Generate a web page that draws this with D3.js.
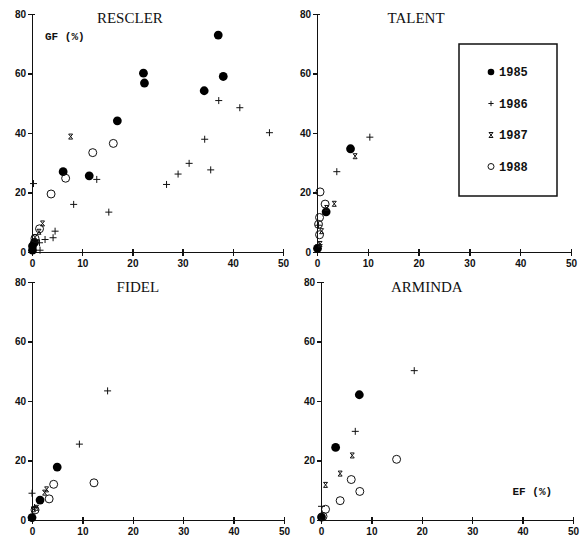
<!DOCTYPE html>
<html>
<head>
<meta charset="UTF-8">
<title>GF vs EF</title>
<script src="https://cdn.jsdelivr.net/npm/d3@7"></script>
<style>
  body{margin:0;background:#fff;}
  .axis path,.axis line{fill:none;stroke:#111;stroke-width:1.5;shape-rendering:crispEdges;}
  .axis text{font:bold 10px "Liberation Sans",sans-serif;fill:#111;}
  .title{font:15px "Liberation Serif",serif;fill:#111;}
  .lab{font:bold 11px "Liberation Mono",monospace;fill:#111;}
  .leg{font:bold 12px "Liberation Mono",monospace;fill:#111;}
</style>
</head>
<body>
<script>
// data: [EF %, GF %]
var years = ["1985","1986","1987","1988"];
var xTicks = [0,10,20,30,40,50];
var yTicks = [0,20,40,60,80];

var rescler1985 = [[37.1,72.9],[22.2,60.1],[22.4,56.8],[38.1,59.0],[34.3,54.2],[17.0,44.1],[6.2,27.0],[11.4,25.6],[0.1,2.0],[0.5,3.2],[0.1,0.6]];
var rescler1986 = [[37.2,50.9],[41.4,48.5],[47.3,40.1],[34.4,37.9],[31.3,29.8],[29.1,26.2],[35.6,27.6],[26.8,22.7],[12.9,24.4],[8.3,16.0],[15.3,13.4],[0.3,23.0],[4.6,7.0],[4.2,4.8],[2.6,4.2],[1.5,3.1],[1.6,0.6]];
var rescler1987 = [[7.7,38.8],[2.1,9.6],[1.4,6.8],[0.6,4.9]];
var rescler1988 = [[16.2,36.5],[12.1,33.4],[6.7,24.8],[3.8,19.5],[1.5,7.8],[0.6,4.6]];

var talent1985 = [[6.6,34.7],[1.8,13.5],[0.1,1.2]];
var talent1986 = [[10.4,38.6],[3.9,27.0],[0.3,9.0],[0.4,2.5]];
var talent1987 = [[7.5,32.2],[3.4,16.2],[1.9,14.8],[0.9,7.0],[0.6,2.7]];
var talent1988 = [[0.6,20.2],[1.6,16.1],[0.5,11.6],[0.3,9.3],[0.5,5.8]];

var fidel1985 = [[5.0,17.8],[1.6,6.7],[0.0,0.8]];
var fidel1986 = [[15.0,43.4],[9.4,25.5],[0.0,9.0],[0.5,4.2]];
var fidel1987 = [[2.9,10.3],[2.5,9.2],[0.3,3.6],[0.9,4.1]];
var fidel1988 = [[12.3,12.5],[4.3,12.0],[3.4,7.1],[0.6,3.4]];

var arminda1985 = [[7.6,42.1],[2.9,24.4],[0.1,1.0]];
var arminda1986 = [[18.5,50.2],[6.8,29.8],[0.1,4.6]];
var arminda1987 = [[6.2,21.7],[3.8,15.6],[0.9,11.8]];
var arminda1988 = [[15.0,20.4],[6.0,13.6],[7.7,9.6],[3.8,6.5],[0.9,3.6],[0.4,1.2]];

var panels = [
  {name:"RESCLER", left:32,  top:14,  w:251, series:[rescler1985,rescler1986,rescler1987,rescler1988]},
  {name:"TALENT",  left:317, top:14,  w:254, series:[talent1985,talent1986,talent1987,talent1988]},
  {name:"FIDEL",   left:32,  top:282, w:252, series:[fidel1985,fidel1986,fidel1987,fidel1988]},
  {name:"ARMINDA", left:321, top:282, w:252, series:[arminda1985,arminda1986,arminda1987,arminda1988]}
];
var h = 238;

var svg = d3.select("body").append("svg")
  .attr("width",585).attr("height",537);

// marker drawers by year index
function mark(g, k, big){
  var s = big ? 1 : 0.75;
  if(k==0){
    g.append("circle").attr("r",4.4*s).attr("fill","#000");
  }else if(k==1){
    g.append("path").attr("d","M"+(-3.5*s)+",0H"+(3.5*s)+"M0,"+(-3.5*s)+"V"+(3.5*s))
      .attr("stroke","#111").attr("stroke-width",1).attr("fill","none");
  }else if(k==2){
    // small hourglass
    g.append("path").attr("d","M-2,-2.5H2L-2,2.5H2Z")
      .attr("stroke","#111").attr("stroke-width",1).attr("fill","none");
  }else{
    g.append("circle").attr("r",4*s).attr("fill","none")
      .attr("stroke","#111").attr("stroke-width",1);
  }
}

panels.forEach(function(p){
  var x = d3.scaleLinear().domain([0,50]).range([0,p.w]);
  var y = d3.scaleLinear().domain([0,80]).range([h,0]);
  var g = svg.append("g").attr("transform","translate("+p.left+","+p.top+")");

  var ya = g.append("g").attr("class","axis")
    .call(d3.axisLeft(y).tickValues(yTicks).tickSize(4).tickSizeOuter(0).tickPadding(2).tickFormat(d3.format("d")));
  ya.selectAll(".tick line").attr("x2",-4).attr("x1",0);
  ya.select(".tick:last-of-type line").attr("x1",3);

  var xa = g.append("g").attr("class","axis")
    .attr("transform","translate(0,"+h+")")
    .call(d3.axisBottom(x).tickValues(xTicks).tickSize(4).tickSizeOuter(0).tickPadding(5).tickFormat(d3.format("d")));
  xa.selectAll(".tick line").attr("y1",-3);
  xa.selectAll(".tick text").attr("dy","0.6em");

  var low = (p.name=="FIDEL"||p.name=="ARMINDA");
  g.append("text").attr("class","title")
    .attr("x",x(low ? 21 : 19.5)).attr("y",low ? 10 : 9)
    .attr("text-anchor","middle").text(p.name);

  p.series.forEach(function(arr,k){
    g.selectAll(null).data(arr).enter().append("g")
      .attr("transform",function(d){return "translate("+x(d[0])+","+y(d[1])+")";})
      .each(function(){ mark(d3.select(this),k,true); });
  });

  if(p.name=="RESCLER"){
    g.append("text").attr("class","lab").attr("x",13).attr("y",26).text("GF (%)");
  }
  if(p.name=="ARMINDA"){
    g.append("text").attr("class","lab").attr("x",x(38)).attr("y",y(8.3)).text("EF (%)");
  }
  if(p.name=="TALENT"){
    var lg = g.append("g").attr("transform","translate(142,30)");
    lg.append("rect").attr("width",98).attr("height",152)
      .attr("fill","none").attr("stroke","#111").attr("stroke-width",1.5);
    years.forEach(function(yr,k){
      var e = lg.append("g").attr("transform","translate(32,"+(28+k*31.5)+")");
      mark(e,k,false);
      e.append("text").attr("class","leg").attr("x",8).attr("dy","0.35em").text(yr);
    });
  }
});
</script>
</body>
</html>
